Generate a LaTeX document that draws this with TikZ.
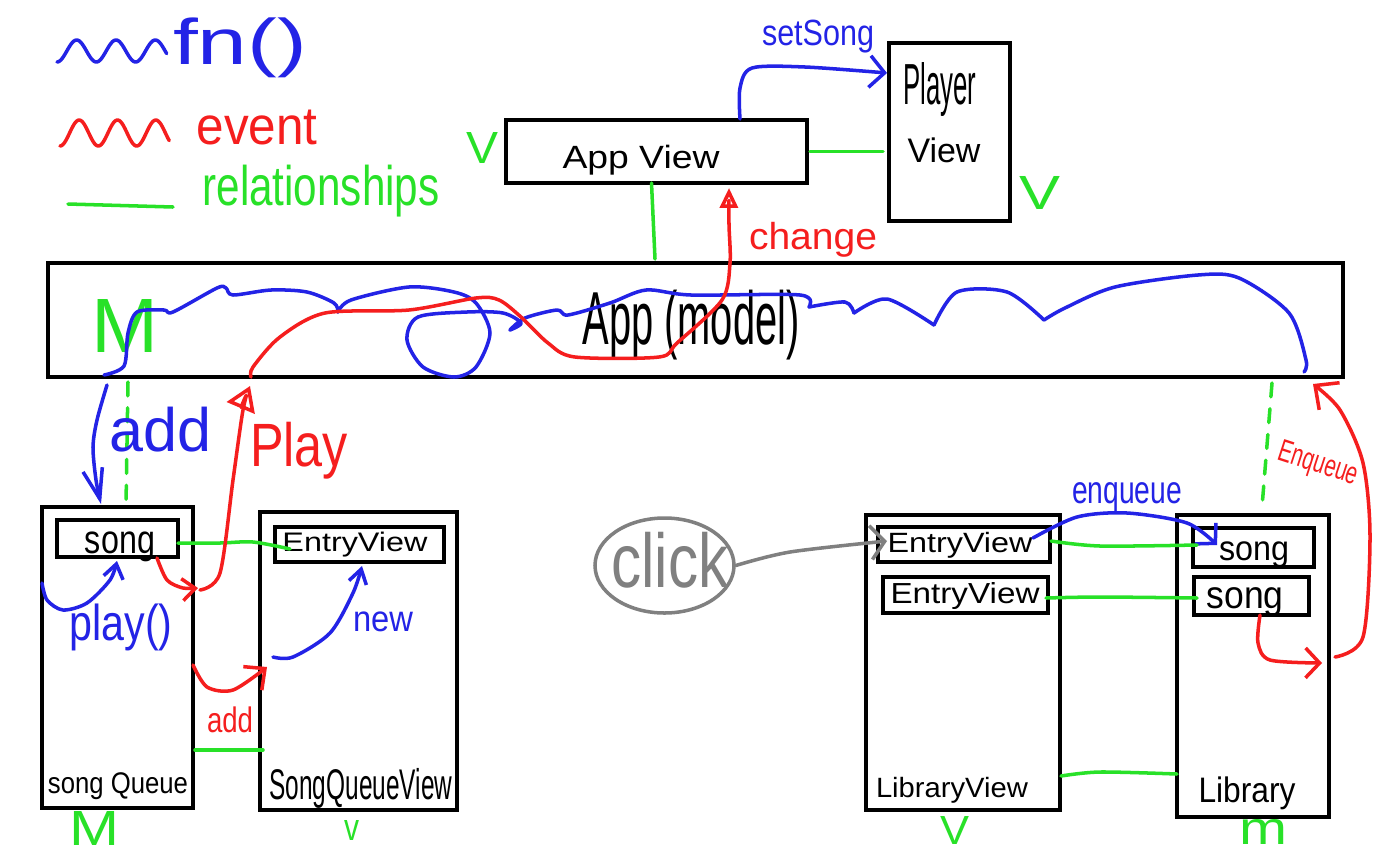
\documentclass[tikz,border=0pt]{standalone}
\usepackage{graphicx}
\usepackage{fontspec}
\setmainfont{Liberation Sans}
\usetikzlibrary{arrows.meta,shapes.geometric,calc}
\newlength\pxu \setlength\pxu{0.02cm}
\newcommand\hw[3]{\resizebox*{#1\pxu}{#2\pxu}{#3}}
\definecolor{pblue}{RGB}{35,35,230}
\definecolor{pred}{RGB}{245,30,30}
\definecolor{pgreen}{RGB}{40,225,40}
\definecolor{pgray}{RGB}{128,128,128}
\begin{document}
\begin{tikzpicture}[x=0.02cm,y=-0.02cm,
  box/.style={draw=black, line width=2.3pt, inner sep=0pt, outer sep=0pt},
  txt/.style={inner sep=0pt, outer sep=0pt},
  bl/.style={draw=pblue, line width=2pt, line cap=round, line join=round},
  rd/.style={draw=pred, line width=2pt, line cap=round, line join=round},
  gr/.style={draw=pgreen, line width=2pt, line cap=round, line join=round},
  gy/.style={draw=pgray, line width=2pt, line cap=round, line join=round},
  dsh/.style={dash pattern=on 7.9pt off 6.8pt},
  barb/.style 2 args={-{Straight Barb[length=#1pt,width=#2pt]}},
  otri/.style 2 args={-{Triangle[open,length=#1pt,width=#2pt]}}]
\useasboundingbox (0,0) rectangle (1395,856);
\fill[white] (0,0) rectangle (1395,856);

% ---------- legend
\draw[bl] plot[domain=0:0.93, samples=80, smooth] ({57+118*\x},{51+11*cos(1080*\x)});
\node[txt,text=pblue] (lfn) at (240,48) {\hw{134}{60}{fn()}};
\draw[rd] plot[domain=0:0.95, samples=80, smooth] ({60+115*\x},{133-13*cos(1080*\x+180)});
\node[txt,text=pred] (levent) at (257,128) {\hw{121}{35}{event}};
\coordinate (lg1) at (68,204); \coordinate (lg2) at (173,207);
\draw[gr] (lg1) -- (lg2);
\node[txt,text=pgreen] (lrel) at (321,191) {\hw{237}{52}{relationships}};

% ---------- top views
\node[box, minimum width=301\pxu, minimum height=63\pxu] (appview) at (656.5,151.5) {};
\node[txt] (appviewt) at (641,160) {\hw{157}{30}{App View}};
\node[box, minimum width=121\pxu, minimum height=178\pxu] (playerview) at (949.5,132) {};
\node[txt] (playert) at (940,90) {\hw{73}{54}{Player}};
\node[txt] (playerviewt) at (944,150) {\hw{73}{25}{View}};
\node[txt,text=pgreen] (chk1) at (482,148) {\hw{32}{31}{V}};
\node[txt,text=pgreen] (chk2) at (1040,193) {\hw{41}{33}{V}};
\draw[gr] ([xshift=3\pxu]appview.east) -- ([xshift=-6\pxu]playerview.west |- appview.east);
\draw[bl, barb={8.5}{18}] plot[smooth] coordinates {(740,119) (740,88) (752,68) (805,67) (887,73)};
\node[txt,text=pblue] (setsongt) at (818,37) {\hw{112}{33}{setSong}};
\draw[gr] ([xshift=-5\pxu]appview.south) -- (655,259);
\node[txt,text=pred] (changet) at (813,240) {\hw{128}{35}{change}};

% ---------- app model
\node[box, minimum width=1295\pxu, minimum height=114\pxu] (app) at (695.5,320) {};
\node[txt] (appt) at (691,325) {\hw{217}{70}{App (model)}};
\node[txt,text=pgreen] (appm) at (125,326) {\hw{67}{53}{M}};
% blue scribble
\draw[bl] plot[smooth] coordinates {(104,375) (124,366) (128,333) (137,312) (164,310) (173,312) (217,288) (226,288) (233,295) (271,290) (307,292) (334,303) (338,312)};
\draw[bl] plot[smooth] coordinates {(338,312) (351,300) (409,287) (454,292) (476,303) (490,333) (476,367) (454,377) (423,367) (407,340) (418,317) (467,312) (503,313) (521,323) (510,330)};
\draw[bl] plot[smooth] coordinates {(510,330) (525,318) (557,310) (568,315) (610,303) (646,290) (691,295) (800,295) (809,307)};
\draw[bl] plot[smooth] coordinates {(809,307) (845,302) (854,313)};
\draw[bl] plot[smooth] coordinates {(854,313) (887,299) (934,325)};
\draw[bl] plot[smooth] coordinates {(934,325) (957,292) (1007,292) (1044,320)};
\draw[bl] plot[smooth] coordinates {(1044,320) (1065,308) (1115,287) (1198,275) (1239,278) (1289,313) (1306,360) (1304,372)};
% red change path
\draw[rd, otri={11.3}{10.2}] plot[smooth] coordinates {(251,377) (253,367) (280,337) (325,313) (409,310) (476,298) (499,300) (521,317) (548,343) (575,357) (659,357) (677,343) (722,300) (730,263) (729,225) (729,188)};

% ---------- song queue
\node[box, minimum width=151\pxu, minimum height=301\pxu] (songqueue) at (117.5,657.5) {};
\node[box, minimum width=121\pxu, minimum height=37\pxu] (sqsong) at (117.5,538.5) {};
\node[txt] (sqsongt) at (120,547) {\hw{70}{30}{song}};
\node[txt] (songqueuet) at (118,786) {\hw{140}{27}{song Queue}};
\node[box, minimum width=197\pxu, minimum height=298\pxu] (sqview) at (358.5,661) {};
\node[box, minimum width=169\pxu, minimum height=35\pxu] (sqentry) at (359.5,544.5) {};
\node[txt] (sqentryt) at (355,545) {\hw{145}{25}{EntryView}};
\node[txt] (sqviewt) at (361,788) {\hw{183}{40}{SongQueueView}};

\draw[bl, barb={17}{11.3}] plot[smooth] coordinates {(107,385) (97,420) (93,447) (96,480) (101,504)};
\draw[gr, dsh] (128,382) -- (126,505);
\node[txt,text=pblue] (addt) at (161,430) {\hw{102}{45}{add}};
\node[txt,text=pred] (playt) at (299,451) {\hw{98}{57}{Play}};

\draw[bl, barb={8}{11.3}] plot[smooth] coordinates {(42,583) (47,600) (63,610) (87,603) (110,580) (117,561)};
\node[txt,text=pblue] (playfnt) at (121,627) {\hw{103}{47}{play()}};
\draw[gr] plot[smooth] coordinates {(178,543) (220,543) (253,542) (290,549)};
\draw[rd, barb={7.4}{12.5}] plot[smooth] coordinates {(157,558) (167,580) (183,588) (198,588)};
\draw[rd, otri={13.6}{17}] plot[smooth] coordinates {(200,590) (220,573) (233,480) (243,410) (250,386)};
\draw[bl, barb={8}{10.2}] plot[smooth] coordinates {(273,657) (293,657) (330,633) (353,593) (362,566)};
\node[txt,text=pblue] (newt) at (383,622) {\hw{60}{20}{new}};
\draw[rd, barb={9}{17}] plot[smooth] coordinates {(193,665) (207,687) (233,690) (267,667)};
\node[txt,text=pred] (addredt) at (230,720) {\hw{46}{26}{add}};
\draw[gr] ([xshift=2\pxu]songqueue.east |- 0,750) -- ([xshift=3\pxu]sqview.west |- 0,750);
\node[txt,text=pgreen] (sqm) at (95,828) {\hw{50}{34}{M}};
\node[txt,text=pgreen] (sqv) at (352,830) {\hw{15}{20}{v}};

% ---------- library
\node[draw=pgray, line width=2pt, ellipse, minimum width=139\pxu, minimum height=95\pxu, inner sep=0pt] (click) at (664.5,565.5) {};
\node[txt,text=pgray] (clickt) at (670,560) {\hw{117}{56}{click}};
\node[box, minimum width=194\pxu, minimum height=295\pxu] (libview) at (963,662.5) {};
\node[box, minimum width=172\pxu, minimum height=35\pxu] (lventry1) at (964,544.5) {};
\node[box, minimum width=165\pxu, minimum height=36\pxu] (lventry2) at (965.5,595) {};
\node[txt] (lventry1t) at (960,545) {\hw{145}{26}{EntryView}};
\node[txt] (lventry2t) at (965,596) {\hw{149}{27}{EntryView}};
\node[txt] (libviewt) at (952,790) {\hw{152}{26}{LibraryView}};
\node[box, minimum width=152\pxu, minimum height=302\pxu] (library) at (1253,666) {};
\node[box, minimum width=121\pxu, minimum height=39\pxu] (libsong1) at (1253.5,547.5) {};
\node[box, minimum width=115\pxu, minimum height=38\pxu] (libsong2) at (1251.5,596) {};
\node[txt] (libsong1t) at (1254,555) {\hw{70}{26}{song}};
\node[txt] (libsong2t) at (1245,602) {\hw{77}{29}{song}};
\node[txt] (libraryt) at (1247,793) {\hw{97}{33}{Library}};

\draw[gy, barb={8}{19.3}] plot[smooth] coordinates {(click.east) (790,552) (887,541)};
\draw[bl, barb={8}{17}] plot[smooth] coordinates {(1033,538) (1077,517) (1127,513) (1187,523) (1217,545)};
\node[txt,text=pblue] (enqt) at (1127,497) {\hw{110}{29}{enqueue}};
\draw[gr] plot[smooth] coordinates {(1051,541) (1100,546) (1197,545)};
\draw[gr] plot[smooth] coordinates {(1046,598) (1100,597) (1197,598)};
\draw[gr] plot[smooth] coordinates {(1061,776) (1100,772) (1177,774)};
\draw[rd, barb={8}{17}] plot[smooth] coordinates {(1260,615) (1258,643) (1270,660) (1322,663)};
\draw[rd, barb={10.2}{19.3}] plot[smooth] coordinates {(1335,657) (1363,637) (1370,537) (1363,463) (1340,410) (1313,384)};
\node[txt,text=pred,rotate=-18] (enqredt) at (1318,465) {\hw{82}{28}{Enqueue}};
\draw[gr, dsh] (1272,383) -- (1262,507);
\node[txt,text=pgreen] (libv) at (955,830) {\hw{29}{28}{V}};
\node[txt,text=pgreen] (libm) at (1263,832) {\hw{48}{25}{m}};
\end{tikzpicture}
\end{document}
